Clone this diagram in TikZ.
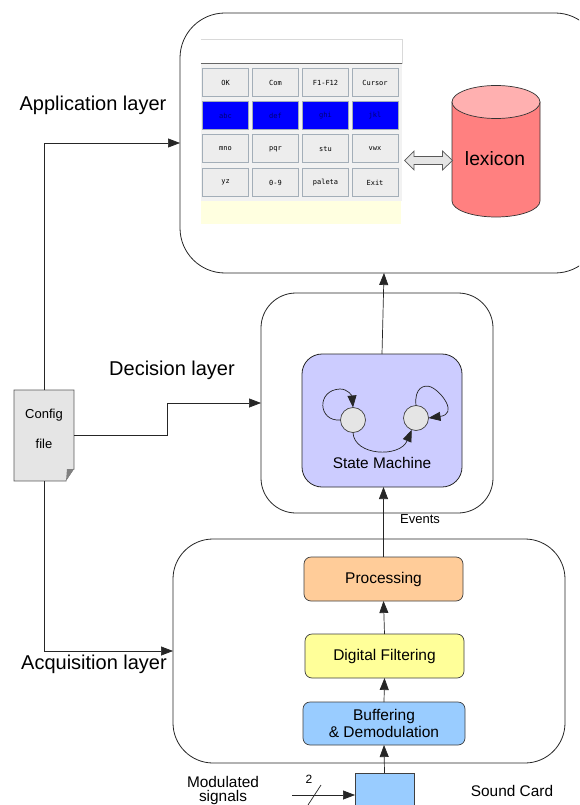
\documentclass[tikz,border=0pt]{standalone}
\usepackage{fontspec}
\setmainfont{Liberation Sans}
\setmonofont{DejaVu Sans Mono}
\usetikzlibrary{arrows.meta,calc}
\definecolor{fsmblue}{HTML}{CCCCFF}
\definecolor{procorange}{HTML}{FFCC99}
\definecolor{filtyellow}{HTML}{FFFF99}
\definecolor{buffblue}{HTML}{99CCFF}
\definecolor{lexbody}{HTML}{FF8080}
\definecolor{lextop}{HTML}{FFB0B0}
\definecolor{keyedge}{HTML}{A3AEB8}
\definecolor{keybar}{HTML}{FFFFE0}
\tikzset{
  layerbox/.style={draw=black!85,line width=0.8pt,rounded corners=#1,inner sep=0pt,outer sep=0pt},
  blockbox/.style={draw=black!75,line width=0.7pt,rounded corners=7pt,inner sep=0pt,outer sep=0pt,align=center,font=\fontsize{15.5}{17.5}\selectfont},
  link/.style={line width=0.7pt,black!85,-{Triangle[length=12pt,width=9pt]}},
  loopline/.style={line width=0.7pt,black!85,-{Triangle[length=12pt,width=9pt]}},
  statecirc/.style={circle,draw=black!75,line width=0.7pt,fill=black!10,minimum size=25pt,inner sep=0pt,outer sep=0pt},
  keybtn/.style={draw=keyedge,line width=1pt,fill=black!7,minimum width=46pt,minimum height=28pt,inner sep=0pt,font=\ttfamily\fontsize{7}{8}\selectfont},
  keysel/.style={keybtn,fill=blue,text=blue!45!black},
  lbl/.style={inner sep=0pt,font=\fontsize{20}{24}\selectfont},
  smalllbl/.style={inner sep=0pt,align=center,font=\fontsize{15.4}{16.5}\selectfont},
}
\begin{document}
\begin{tikzpicture}[x=1pt,y=-1pt]
  \clip (0,0) rectangle (579,805);
  \fill[white] (0,0) rectangle (579,805);
  % layers
  \node[layerbox=45pt,minimum width=420pt,minimum height=260pt] (app) at (390,143) {};
  \node[layerbox=35pt,minimum width=232pt,minimum height=220pt] (dec) at (377,403) {};
  \node[layerbox=40pt,minimum width=392pt,minimum height=224pt] (acq) at (369,651) {};
  \node[lbl] (applbl) at (93,105.5) {Application layer};
  \node[lbl] (declbl) at (172,370.5) {Decision layer};
  \node[lbl] (acqlbl) at (94,664.5) {Acquisition layer};
  % keypad
  \node[fill=white,minimum width=201pt,minimum height=24pt,inner sep=0pt] (keytop) at (301.5,52) {};
  \draw[black!15,line width=0.8pt] (keytop.north west) -- (keytop.north east) -- (keytop.south east);
  \node[fill=black!5,minimum width=201pt,minimum height=137pt,inner sep=0pt] (keypanel) at (301.5,132.5) {};
  \draw[black!60,line width=0.8pt] (keypanel.north west) -- (keypanel.north east);
  \node[fill=keybar,minimum width=200pt,minimum height=23pt,inner sep=0pt] (keystrip) at (301,212.5) {};
  \foreach \name/\xc/\yc/\kind/\txt in {
    ok/225.5/82.5/keybtn/OK,com/275.5/82.5/keybtn/Com,fkeys/325.5/82.5/keybtn/F1-F12,cursor/375/82.5/keybtn/Cursor,
    abc/225.5/115.5/keysel/abc,def/275.5/115.5/keysel/def,ghi/325.5/115.5/keysel/ghi,jkl/375/115.5/keysel/jkl,
    mno/225.5/149/keybtn/mno,pqr/275.5/149/keybtn/pqr,stu/325.5/149/keybtn/stu,vwx/375/149/keybtn/vwx,
    yz/225.5/182.5/keybtn/yz,num/275.5/182.5/keybtn/0-9,paleta/325.5/182.5/keybtn/paleta,exit/375/182.5/keybtn/Exit}
    \node[\kind] (\name) at (\xc,\yc) {\txt};
  % lexicon
  \draw[black!80,line width=0.7pt,fill=lexbody] (452,102) -- (452,201) arc[start angle=180,end angle=360,x radius=44,y radius=-16] -- (540,102) -- cycle;
  \draw[black!80,line width=0.7pt,fill=lextop] (496,102) ellipse[x radius=44,y radius=16.5];
  \node[inner sep=0pt,font=\fontsize{19.3}{22}\selectfont] (lexlbl) at (495,159) {lexicon};
  % two way arrow
  \draw[black!65,line width=0.7pt,fill=black!10] (404.5,160.5) -- (414,151) -- (414,156.5) -- (442.5,156.5) -- (442.5,151) -- (452.5,160.5)
    -- (442.5,170) -- (442.5,164.5) -- (414,164.5) -- (414,170) -- cycle;
  % state machine
  \node[layerbox=20pt,fill=fsmblue,minimum width=160pt,minimum height=133pt] (fsm) at (382,420.5) {};
  \node[statecirc] (s1) at (353,420) {};
  \node[statecirc] (s2) at (416,418) {};
  \node[inner sep=0pt,font=\fontsize{15.4}{17}\selectfont] (fsmlbl) at (382,463) {State Machine};
  \draw[loopline] (s1.west) .. controls (318,422) and (316,390) .. (340,389) .. controls (348,389) and (352,396) .. (s1.north);
  \draw[loopline] (s2.north) .. controls (414,388) and (424,384) .. (431,387) .. controls (442,392) and (458,414) .. (s2.east);
  \draw[loopline] (s1.south) .. controls (354,456) and (400,458) .. (s2.250);
  % acquisition blocks
  \node[blockbox,fill=procorange,minimum width=159pt,minimum height=44pt] (proc) at (383.5,579) {Processing};
  \node[blockbox,fill=filtyellow,minimum width=159pt,minimum height=44pt] (filt) at (384.5,656) {Digital Filtering};
  \node[blockbox,fill=buffblue,minimum width=162pt,minimum height=43pt] (buff) at (384,723.5) {Buffering\\\& Demodulation};
  \node[draw=black!75,line width=0.7pt,fill=buffblue,minimum width=59pt,minimum height=64pt,inner sep=0pt,outer sep=0pt] (card) at (384.5,805) {};
  % config file
  \node[fill=black!10,minimum width=60pt,minimum height=91pt,inner sep=0pt,outer sep=0pt] (config) at (44,435.5) {};
  \draw[black!65,line width=0.9pt] (config.south east) ++(0,-12) -- (config.north east) -- (config.north west) -- (config.south west) -- ++(52,0) -- ++(8,-12);
  \fill[white] (config.south east) -- ++(0,-12) -- ++(-8,12) -- cycle;
  \fill[black!50] (config.south east) ++(0,-12) -- ++(-7,0) -- ++(-1,12) -- cycle;
  \node[inner sep=0pt,font=\fontsize{13}{15}\selectfont] (cfg1) at (44,415) {Config};
  \node[inner sep=0pt,font=\fontsize{13}{15}\selectfont] (cfg2) at (44,444) {file};
  % connectors
  \draw[link] (config.north) |- (app.west);
  \draw[link] (config.south) |- (acq.west);
  \coordinate (bend) at (167,435.5);
  \draw[link] (config.east) -- (bend) |- (dec.west);
  \coordinate (apptip) at (384,273);
  \draw[link] (fsm.north) -- (apptip);
  \draw[link] (proc.north) -- (fsm.south -| proc.north);
  \draw[link] (filt.north) -- (proc.south);
  \draw[link] (buff.north) -- (filt.south);
  \draw[link] (card.north) -- (buff.south);
  \node[inner sep=0pt,font=\fontsize{13}{15}\selectfont] (events) at (420,519) {Events};
  % sound card input
  \node[smalllbl] (modlbl) at (223,782) {Modulated};
  \node[smalllbl] (siglbl) at (223,798) {signals};
  \node[smalllbl] (cardlbl) at (512,791) {Sound Card};
  \node[inner sep=0pt,font=\fontsize{12}{13}\selectfont] (two) at (309,779) {2};
  \coordinate (sigin) at (292,795);
  \draw[link] (sigin) -- (card.west |- sigin);
  \draw[line width=0.7pt,black!85] (321,785) -- (308,805);
\end{tikzpicture}
\end{document}
